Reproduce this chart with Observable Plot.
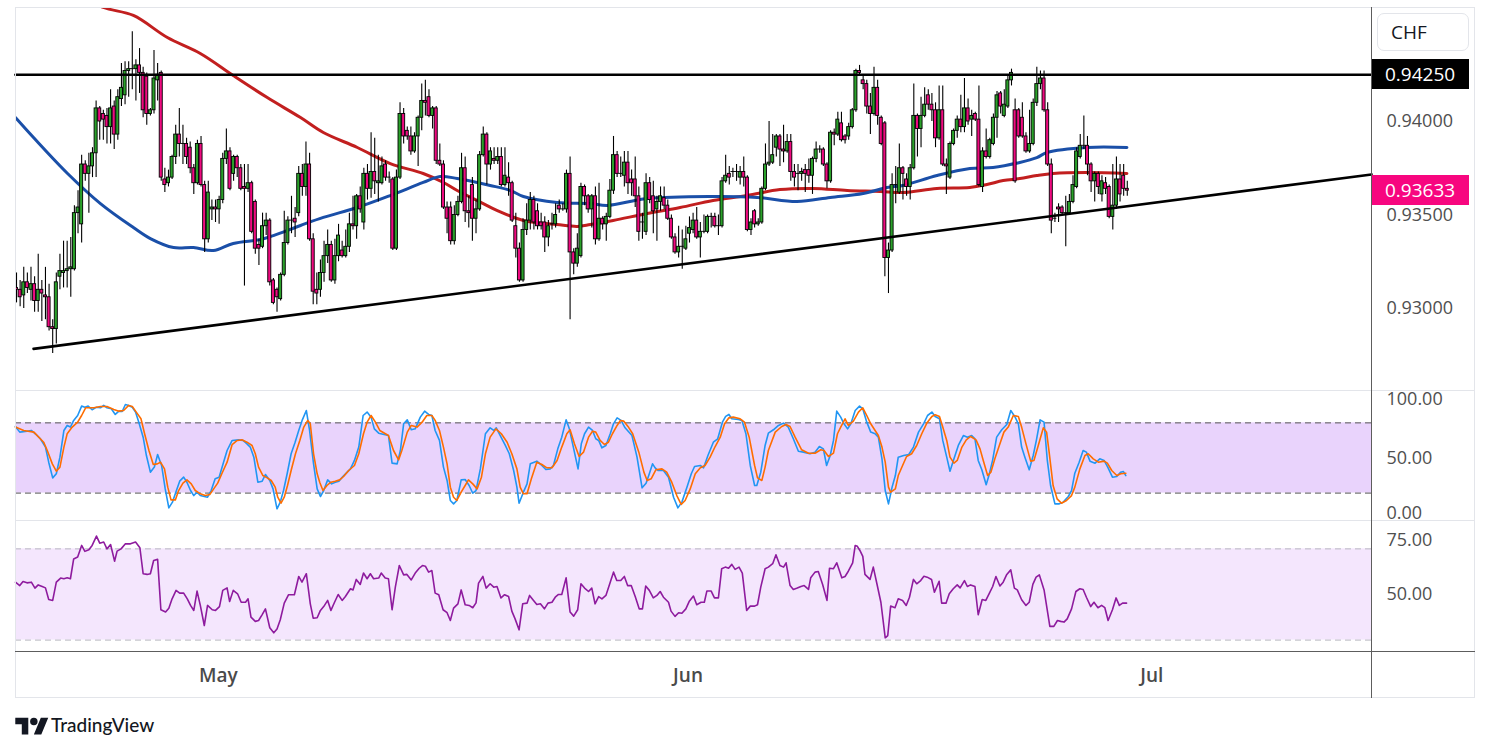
<!DOCTYPE html>
<html>
<head>
<meta charset="utf-8">
<script src="https://cdn.jsdelivr.net/npm/d3@7"></script>
<script src="https://cdn.jsdelivr.net/npm/@observablehq/plot@0.6"></script>
<style>
  html, body { margin: 0; padding: 0; background: #fff; }
  #wrap { position: relative; width: 1491px; height: 752px; overflow: hidden; font-family: "Open Sans", "Noto Sans", sans-serif; }
  .abs { position: absolute; }
  .hline { position: absolute; height: 1px; }
  .vline { position: absolute; width: 1px; }
  .pricebox { position: absolute; left: 1372px; width: 97px; height: 30px; line-height: 30px; color: #fff; font-size: 19px; padding-left: 13px; box-sizing: border-box; }
</style>
</head>
<body>
<div id="wrap"></div>
<script>
// ---------------- DATA ----------------
// 4h candles (index 0 = first visible candle). Prices in pips above PIP_BASE.
const PIP_BASE = 0.93;
const candleOpen = [
11,10,7,14,10,13,4,10,7,6, -10,-11,17,19,20,21,21,51,45,77, 72,76,83,107,104,103,97,108,93,112,
114,127,128,128,130,126,124,104,106,122, 126,69,67,70,81,93,88,88,86,75, 67,88,66,37,53,54,53,58,80,84,
72,81,75,65,64,67,57,34,33,44, 47,15,10,5,18,35,47,48,51, 72,65,77,37,10,10,19,28,34,15,
28,31,28,33,45,44,60,46,72,64, 73,67,67,77,70,69,32,70,104,95, 92,84,92,102,111,113,103,107,79,77,
54,54,36,50,57,75,52,66,48,53, 82,93,77,80,79,81,66,70,67,44, 32,15,42,47,58,52,46,46,38,45,
45,55,53,53,72,30,24,28,65,60, 53,60,37,48,45,49,63,82,72,71, 78,69,69,60,46,41,67,60,53,57,
59,55,48,38,30,33,32,40,42,47, 38,41,41,49,49,44,44,68,72,73, 73,70,73,70,42,52,45,46,64,77,
78,86,92,85,84,89,73,72,72,74, 74,71,80,85,85,77,68,94,93,99, 92,92,97,106,127,122,120,108,104,118,
102,99,27,31,66,62,75,69,65,75, 103,96,103,114,109,106,91,106,77,70, 88,95,101,97,107,101,104,101,65,84,
81,88,102,115,103,108,122,106,106,102, 92,84,88,110,120,123,106,77,48,54, 54,51,51,57,65,81,87,87,77,68,
72,61,67,65,49,55,69,71,64];
const candleHigh = [
19,15,22,19,22,17,29,15,22,13, -6,19,29,36,36,38,55,63,82,79, 83,86,111,108,106,107,117,111,117,131,
132,132,148,133,139,129,126,107,138,131, 127,75,74,82,98,107,98,91,89,77, 90,92,68,68,58,58,60,83,96,86,
82,82,77,77,77,68,58,37,51,51, 48,16,11,19,52,49,60,54,76, 77,89,83,40,19,26,36,42,36,37,
45,36,42,51,60,61,65,75,77,94, 91,82,81,79,73,70,74,110,107,97, 97,94,103,120,122,117,108,108,88,79,
57,57,55,60,83,81,60,70,58,84, 97,94,86,86,86,86,86,78,68,51, 35,48,56,62,60,56,51,49,47,51,
56,58,56,74,81,32,40,67,66,61, 61,65,67,49,51,69,92,84,81,84, 84,74,81,65,51,72,70,68,60,65,
65,58,50,40,44,42,44,49,51,54, 46,50,50,51,51,50,70,82,76,75, 77,76,81,71,48,53,48,65,88,100,
93,93,93,98,93,93,77,77,75,77, 80,81,89,87,86,78,95,96,105,105, 93,99,107,128,130,125,122,115,129,122,
103,100,35,72,76,88,76,72,77,120, 104,113,118,117,115,110,119,119,80,89, 96,103,114,123,112,106,105,119,86,96,
91,104,116,116,117,124,128,112,107,110, 94,106,112,129,127,127,110,80,51,56, 55,60,61,71,86,93,103,92,78,73,
73,71,70,66,77,81,77,77,68];
const candleLow = [
3,1,0,8,4,-2,-2,-7,-6,-12, -24,-19,10,11,11,6,20,40,35,68, 51,70,70,90,90,88,88,85,90,108,
109,113,117,111,115,102,98,103,104,111, 68,62,65,69,77,81,77,77,72,61, 66,65,30,35,47,46,45,56,77,63,
68,70,63,12,62,40,29,23,32,39, 12,2,-2,4,17,34,40,38,49, 60,60,36,2,2,6,14,24,14,13,
25,27,27,30,42,37,51,42,58,59, 61,57,66,68,67,31,31,69,88,90, 82,83,76,95,103,102,96,77,76,53,
40,34,34,49,56,46,43,36,40,52, 81,66,74,77,77,65,65,60,46,27, 14,14,39,42,42,42,42,30,33,42,
43,51,52,51,-6,18,22,27,55,51, 43,34,36,42,36,48,61,70,70,65, 61,60,54,36,37,39,56,40,36,52,
53,47,37,29,27,21,31,35,40,37, 27,40,40,43,43,39,43,67,66,70, 68,66,65,41,39,43,44,45,63,76,
77,81,76,78,83,68,65,63,68,62, 67,61,78,83,76,64,67,87,92,89, 88,90,96,105,125,117,104,93,103,98,
87,17,8,30,56,61,58,60,58,74, 81,86,102,106,100,86,90,76,61,69, 87,91,94,94,98,92,100,65,62,80,
80,87,91,104,102,107,119,67,91,91, 83,83,87,108,117,105,76,40,46,46, 50,33,50,56,64,80,85,71,62,57,
61,57,61,48,42,53,57,60,60];
const candleClose = [
10,6,14,11,13,4,10,8,6,-10, -11,14,20,20,21,22,51,54,77,72, 76,83,107,100,101,97,107,93,113,118,
127,128,128,130,126,106,104,106,123,125, 70,66,70,81,93,88,88,81,75,67, 88,66,37,62,54,53,58,80,84,64,
81,75,64,64,67,41,32,32,44,47, 14,3,6,18,35,47,47,46,72, 65,77,37,9,8,19,28,34,15,28,
39,28,33,45,44,60,53,72,64,73, 68,68,76,70,70,32,70,104,92,92, 84,92,102,111,110,103,107,79,77,54,
48,36,50,57,75,52,51,48,53,82, 93,77,84,79,81,66,71,67,47,32, 15,42,47,58,46,44,44,38,44,45,
50,53,53,72,30,24,32,65,60,53, 60,37,48,45,49,63,82,72,72,78, 67,67,60,41,46,67,58,52,57,60,
55,48,38,30,33,33,37,43,47,38, 41,41,49,49,44,44,68,71,70,73, 73,73,70,42,46,45,46,64,77,78,
82,92,85,84,89,73,70,72,73,72, 71,80,85,85,77,68,94,93,101,90, 90,97,106,127,126,120,108,104,118,103,
88,27,31,66,66,75,72,65,75,103, 96,103,109,109,106,91,106,77,76,88, 95,101,97,107,100,103,101,66,84,81,
90,102,114,108,109,122,126,68,92,92, 84,88,110,120,123,106,77,47,48,53, 51,51,57,66,84,87,87,77,68,72,
65,68,64,49,55,69,61,64,63];

// moving averages: [candle index, price]
const maRed = [[17.7,0.94674],[24.0,0.94610],[32.3,0.94567],[41.7,0.94449],[50.8,0.94364],[59.9,0.94246],[69.3,0.94128],[78.5,0.94021],[84.8,0.93941],[94.2,0.93861],[103.3,0.93775],[112.4,0.93722],[118.0,0.93674],[121.8,0.93631],[127.3,0.93578],[132.9,0.93524],[140.1,0.93471],[149.4,0.93449],[155.0,0.93439],[158.6,0.93449],[164.9,0.93471],[174.3,0.93508],[183.4,0.93540],[192.5,0.93578],[201.9,0.93604],[211.0,0.93636],[220.2,0.93642],[229.6,0.93631],[238.7,0.93626],[245.0,0.93620],[254.4,0.93642],[263.5,0.93647],[268.2,0.93663],[272.7,0.93684],[277.3,0.93695],[282.0,0.93711],[286.5,0.93722],[295.9,0.93727],[306.9,0.93722]];
const maBlue = [[-0.3,0.94021],[4.7,0.93914],[14.1,0.93722],[23.2,0.93561],[32.3,0.93433],[37.0,0.93374],[43.4,0.93326],[48.9,0.93326],[54.4,0.93310],[59.9,0.93348],[67.4,0.93369],[71.0,0.93390],[78.5,0.93444],[84.8,0.93487],[94.2,0.93540],[103.3,0.93604],[112.4,0.93674],[117.1,0.93706],[121.8,0.93695],[130.9,0.93658],[136.5,0.93631],[140.1,0.93599],[149.4,0.93567],[158.6,0.93561],[163.3,0.93551],[174.3,0.93588],[192.5,0.93599],[204.7,0.93594],[215.7,0.93572],[224.9,0.93594],[234.0,0.93615],[240.6,0.93647],[245.0,0.93658],[254.4,0.93711],[263.5,0.93749],[269.9,0.93754],[277.3,0.93781],[282.0,0.93807],[284.8,0.93834],[295.9,0.93861],[306.9,0.93861]];

// trend lines: [candle index, price]
const resistanceLine = [[-0.3,0.9425],[374.5,0.9425]];
const supportLine = [[4.7,0.92784],[374.5,0.93717]];

// price axis
const priceTicks = [0.93, 0.935, 0.94];
const resistanceLabel = 0.9425;
const lastPrice = 0.93633;

// stochastic %K / %D: [candle index, value]
const stochK = [[-0.3,76.9],[0.9,72.1],[2.9,72.9],[4.1,73.5],[5.2,70.7],[6.6,66.4],[8.0,59.3],[8.9,46.4],[10.0,33.0],[11.0,36.5],[12.0,50.7],[13.1,73.5],[14.0,77.8],[14.9,76.4],[15.8,82.1],[16.9,86.3],[18.0,94.3],[18.9,93.4],[19.8,94.3],[20.9,91.2],[22.1,93.4],[23.2,92.9],[24.1,94.9],[25.0,92.9],[26.2,92.0],[27.3,87.2],[28.3,90.0],[29.2,89.7],[30.1,95.7],[31.0,94.9],[32.0,93.4],[32.9,89.2],[33.8,80.6],[35.0,67.8],[35.9,52.1],[37.0,37.9],[38.1,42.2],[39.0,53.0],[40.1,43.6],[41.1,23.6],[42.1,7.4],[43.1,12.3],[44.2,22.2],[45.1,30.2],[46.2,33.6],[47.1,29.3],[48.1,22.2],[49.0,17.9],[49.9,20.8],[50.8,17.9],[51.9,17.1],[52.8,16.5],[53.8,22.2],[54.9,32.2],[56.0,33.6],[57.1,45.0],[58.2,56.4],[59.6,65.0],[61.4,65.5],[62.6,65.0],[63.7,62.1],[64.6,59.3],[65.6,50.7],[66.7,29.3],[67.9,30.2],[68.8,35.9],[70.0,30.8],[70.9,23.6],[72.0,6.6],[72.9,12.3],[73.8,22.2],[74.8,36.5],[75.9,53.6],[77.0,63.5],[78.0,73.5],[79.0,82.6],[80.1,90.6],[81.0,73.5],[82.1,45.0],[83.1,23.6],[84.0,17.1],[84.9,22.2],[86.0,31.3],[87.1,27.9],[88.1,29.3],[89.1,30.2],[90.2,34.2],[91.4,37.9],[92.3,40.7],[93.4,47.9],[94.6,59.3],[95.8,86.3],[96.9,89.2],[98.0,84.9],[98.9,74.9],[100.1,71.2],
[102.8,69.2],[103.8,45.6],[105.2,45.0],[106.1,56.4],[107.0,79.2],[108.0,82.6],[109.1,74.1],[110.2,74.9],[111.6,84.9],[112.8,90.0],[113.9,87.2],[114.8,86.3],[115.7,73.5],[116.9,65.0],[118.0,42.2],[119.0,30.8],[119.9,13.7],[120.8,10.8],[121.7,13.7],[122.9,31.3],[124.0,31.6],[125.1,26.5],[126.1,19.9],[127.0,22.2],[128.2,40.7],[129.6,70.7],[130.9,75.8],[131.9,73.5],[132.6,75.8],[133.7,69.2],[135.1,60.7],[136.2,53.6],[137.4,39.3],[138.3,25.1],[138.9,11.4],[140.1,20.8],[141.1,27.9],[142.0,45.0],[143.8,47.3],[145.2,43.6],[146.3,40.2],[147.5,40.7],[148.4,43.6],[149.6,57.8],[150.7,67.8],[151.9,82.6],[152.8,74.9],[153.9,59.3],[155.2,40.7],[156.1,62.1],[157.0,70.7],[158.1,76.4],[159.2,73.5],[160.1,66.4],[160.9,65.0],[161.8,58.7],[162.9,60.7],[164.1,70.7],[165.0,79.2],[166.0,84.3],[167.1,82.1],[168.2,75.8],[170.1,69.2],[171.5,50.7],[172.9,24.5],[174.0,28.5],[174.9,36.5],[175.8,45.0],[176.5,41.6],[177.3,39.3],[178.8,39.3],[180.2,33.6],[181.6,16.5],[182.8,7.4],[183.9,12.3],[185.3,25.1],[186.5,36.5],[187.4,42.7],[189.0,43.6],[189.9,41.6],[191.1,52.1],[192.6,63.5],[193.8,66.4],[195.1,80.6],[196.0,85.5],[196.9,87.2],[197.7,83.5],[199.5,82.9],[200.5,82.1],[201.6,70.7],[202.8,43.6],[204.0,26.5],
[204.6,26.5],[205.7,37.9],[206.9,60.7],[207.8,71.2],[209.2,74.1],[210.6,77.8],[212.0,79.8],[213.3,76.4],[214.7,66.4],[216.1,55.8],[217.5,55.0],[219.3,53.6],[220.7,55.0],[221.9,59.8],[223.0,57.8],[223.9,43.6],[224.9,52.1],[225.8,65.0],[226.7,90.0],[227.8,84.9],[228.7,79.2],[229.7,74.9],[230.6,79.2],[231.8,90.6],[233.0,94.3],[233.9,92.0],[235.0,80.6],[236.1,72.1],[237.3,70.7],[238.2,67.8],[239.2,49.3],[240.1,22.2],[241.0,10.8],[242.0,25.1],[242.9,35.0],[243.7,50.7],[245.2,52.1],[246.6,53.0],[247.9,59.3],[249.3,72.1],[250.7,79.2],[251.8,86.3],[253.0,89.2],[253.9,85.5],[255.1,83.5],[256.0,65.0],[257.1,50.7],[258.0,38.7],[259.1,49.3],[260.3,60.7],[261.7,69.2],[262.8,67.8],[264.0,69.2],[264.9,66.4],[265.8,47.9],[266.8,39.9],[268.0,27.1],[268.9,36.5],[269.8,48.4],[270.9,67.8],[272.3,74.1],[273.7,78.6],[274.8,90.6],[276.0,84.9],[276.9,79.2],[277.8,59.3],[278.7,50.7],[279.9,39.9],[281.0,52.1],[281.9,65.5],[282.9,82.6],[284.0,80.6],[284.9,47.9],[285.8,26.5],[287.0,10.8],[288.2,10.8],[289.3,12.3],[290.7,17.1],[291.6,22.2],[292.5,37.0],[293.7,46.4],[294.8,56.4],[295.7,55.0],[296.7,47.3],[298.1,45.6],[299.4,49.3],[300.6,47.9],[301.7,41.6],[302.9,33.6],[304.1,34.2],[305.2,37.9],[305.9,38.5],[306.6,35.0]];
const stochD = [[-0.3,76.4],[2.0,73.5],[4.8,72.1],[7.5,63.5],[8.5,56.4],[9.9,45.0],[11.0,38.7],[12.0,42.2],[13.1,59.3],[14.0,70.7],[15.4,76.4],[16.9,80.6],[18.0,86.3],[19.1,92.9],[21.4,92.9],[23.2,94.0],[25.0,94.0],[26.9,91.5],[28.3,90.0],[29.6,90.6],[31.0,94.9],[32.0,94.0],[33.1,89.2],[34.4,83.5],[35.4,70.7],[36.6,56.4],[37.8,44.4],[38.9,45.0],[39.8,46.4],[40.9,40.7],[41.8,25.1],[42.7,14.2],[43.9,14.2],[44.8,22.2],[46.0,28.5],[47.1,31.3],[48.3,27.9],[49.4,22.2],[50.8,19.4],[52.2,17.9],[53.4,18.8],[54.5,23.6],[55.6,28.5],[56.8,37.0],[58.2,46.4],[59.6,61.5],[61.0,65.0],[62.3,65.5],[63.7,63.5],[65.1,60.7],[66.0,53.6],[66.9,42.2],[68.1,35.0],[69.3,33.0],[70.4,30.8],[71.5,25.1],[72.2,16.5],[73.1,11.4],[74.0,16.5],[74.9,26.5],[75.9,39.3],[77.1,53.6],[78.3,65.0],[79.4,76.4],[80.5,82.1],[81.2,79.2],[82.1,53.6],[83.1,36.5],[83.8,29.3],[84.7,22.2],[85.8,26.5],[86.9,29.3],[88.1,30.2],[89.3,31.3],[90.4,34.2],[91.8,39.3],[93.4,43.6],[94.6,53.6],[95.9,70.7],[96.9,80.6],[98.0,86.3],[99.2,80.6],[100.4,73.5],
[102.8,69.2],[104.2,56.4],[105.6,48.4],[106.5,56.4],[108.0,72.1],[109.1,77.8],[110.7,76.4],[112.1,80.6],[113.4,86.3],[114.8,86.3],[115.7,82.1],[116.9,73.5],[118.0,59.3],[119.0,45.0],[119.9,25.1],[120.8,16.5],[121.7,13.7],[122.9,20.8],[124.0,26.5],[124.9,31.3],[126.1,27.9],[127.3,23.6],[128.5,33.6],[129.6,53.6],[130.9,67.8],[132.5,74.9],[134.0,70.7],[135.6,63.5],[136.9,53.6],[138.3,40.7],[139.2,25.1],[140.1,19.4],[141.1,19.4],[142.3,32.2],[143.8,46.4],[145.2,44.4],[146.6,41.6],[148.0,41.6],[149.4,47.9],[150.7,59.3],[152.1,70.7],[153.0,74.1],[154.2,62.1],[155.5,51.3],[156.7,55.0],[158.1,67.8],[159.2,72.9],[160.1,72.1],[161.3,65.0],[162.5,61.5],[163.6,63.5],[164.7,70.7],[166.0,77.8],[166.9,82.1],[167.8,81.5],[169.0,77.0],[170.3,70.7],[172.0,55.0],[173.4,37.9],[174.3,30.8],[175.4,32.2],[176.7,39.9],[178.4,40.7],[179.7,37.9],[181.1,29.3],[182.5,17.9],[183.7,10.3],[184.8,13.7],[186.2,23.6],[187.6,36.5],[189.0,41.6],[190.3,43.6],[191.7,50.7],[193.1,59.8],[194.5,67.8],[195.7,79.2],[196.9,84.3],[198.1,84.9],[200.0,83.5],[201.2,80.6],[202.5,67.8],[204.0,43.6],
[204.8,33.0],[206.0,30.8],[206.9,42.2],[207.8,56.4],[209.7,72.1],[211.5,76.9],[212.7,78.6],[213.8,76.9],[215.2,67.8],[217.0,57.0],[218.9,54.1],[220.7,54.1],[222.3,57.0],[223.2,56.4],[224.4,51.3],[225.8,54.1],[226.9,70.7],[227.8,76.4],[229.0,83.5],[229.9,77.8],[231.3,81.5],[232.7,89.2],[233.9,92.9],[235.0,86.3],[236.1,79.2],[237.3,73.5],[238.2,69.2],[239.2,59.3],[240.1,46.4],[241.0,25.1],[241.6,20.8],[242.9,23.6],[243.7,35.0],[244.9,43.6],[246.0,51.3],[247.4,53.6],[248.8,60.7],[250.2,70.7],[251.6,79.8],[253.0,85.5],[253.9,86.9],[255.1,85.5],[256.0,76.4],[257.1,65.0],[258.0,50.7],[259.1,45.6],[260.0,47.9],[261.3,59.3],[262.5,65.5],[263.7,68.4],[265.2,65.5],[266.3,57.8],[267.2,47.9],[268.4,35.0],[269.3,37.9],[270.4,49.3],[271.8,62.1],[272.9,72.1],[274.1,76.4],[275.5,86.3],[276.9,85.5],[277.8,76.4],[279.0,62.1],[280.3,47.3],[281.2,47.9],[282.4,60.7],[283.8,75.8],[284.7,72.1],[285.4,55.0],[286.5,26.5],[287.6,15.1],[288.8,11.4],[290.2,13.7],[291.6,17.9],[292.5,25.1],[293.9,40.7],[295.3,52.1],[296.2,53.6],[297.6,49.3],[299.0,46.4],[300.6,47.3],[301.5,45.6],[302.7,39.3],[304.1,35.0],[305.2,36.5],[306.6,37.0]];
const stochBand = [20, 80];
const stochTicks = [50, 100];
const stochZeroTick = [0];

// RSI: [candle index, value]
const rsi = [[-0.3,55.4],[0.9,53.9],[1.8,55.7],[2.9,55.1],[4.1,55.4],[5.1,52.8],[6.0,54.2],[7.1,53.5],[8.0,52.9],[8.9,47.8],[10.0,47.4],[11.0,55.4],[12.2,57.2],[13.1,56.9],[14.0,57.3],[14.9,56.9],[15.8,65.6],[16.9,66.4],[18.0,71.5],[18.9,68.9],[20.0,69.6],[20.9,71.5],[22.1,75.6],[23.0,72.5],[24.1,73.0],[25.0,70.0],[26.0,71.9],[27.1,64.6],[27.8,69.0],[28.9,70.0],[30.1,72.2],[31.5,72.2],[32.9,73.0],[34.1,70.5],[35.0,59.1],[36.1,58.8],[37.0,59.1],[37.9,64.9],[39.0,65.4],[39.9,43.3],[41.2,42.3],[42.1,44.0],[43.0,48.1],[44.1,51.8],[45.1,50.6],[46.2,50.6],[47.2,48.1],[48.1,45.2],[49.0,43.0],[49.9,51.5],[50.8,45.2],[51.9,36.4],[52.8,45.2],[54.1,43.3],[55.0,43.0],[56.1,44.7],[57.0,51.8],[58.2,52.9],[58.9,46.9],[59.9,51.8],[61.1,50.3],[62.1,46.6],[63.3,46.6],[64.0,48.1],[64.8,40.1],[66.0,38.2],[66.9,38.6],[67.9,41.2],[68.8,43.7],[70.0,35.4],[71.1,33.2],[72.0,34.9],[72.9,38.9],[74.0,46.2],[75.2,49.9],[76.8,49.9],[78.0,57.9],[78.9,55.4],[80.1,59.1],[81.2,45.9],[82.0,39.6],[83.1,39.8],[84.0,43.0],[84.9,44.7],[86.0,47.4],[86.9,43.0],[87.9,46.6],[88.9,50.0],[90.0,47.4],[90.9,49.1],[92.3,52.5],[93.0,52.0],[93.9,56.6],[95.0,54.4],[95.9,59.4],[96.9,56.9],[97.8,59.1],[98.7,56.9],[100.1,57.2],
[100.8,59.4],[101.9,57.2],[102.8,56.9],[103.8,43.3],[104.7,53.2],[105.8,62.7],[107.0,58.6],[107.9,58.8],[109.1,56.4],[110.2,59.4],[111.3,61.5],[112.2,62.7],[113.0,62.4],[113.9,59.8],[114.8,60.5],[115.7,50.6],[116.7,49.9],[117.9,43.3],[119.0,42.0],[119.9,38.6],[120.8,44.0],[122.0,45.9],[122.9,52.0],[124.0,45.5],[125.1,45.2],[126.1,44.2],[127.0,46.3],[127.7,55.0],[128.9,57.9],[129.8,52.8],[130.9,54.7],[131.9,53.2],[132.8,53.5],[133.9,48.5],[134.9,49.9],[136.0,49.1],[136.9,42.7],[137.8,39.3],[138.9,34.5],[139.9,45.9],[141.1,46.2],[141.8,49.6],[142.9,47.4],[143.8,45.6],[144.8,45.9],[145.9,43.7],[146.9,46.2],[148.0,46.6],[148.9,48.8],[149.8,50.0],[150.7,50.0],[151.9,57.3],[153.0,42.3],[154.0,40.5],[155.1,43.3],[156.0,54.7],[157.0,52.8],[158.1,51.3],[159.0,52.8],[159.9,45.9],[160.9,49.1],[161.8,48.1],[162.9,49.6],[164.1,55.4],[165.0,59.8],[165.9,56.1],[167.0,56.1],[168.0,57.9],[168.9,53.9],[169.9,53.9],[171.0,49.1],[172.1,43.7],[173.0,43.7],[173.9,53.7],[174.9,51.8],[176.0,48.5],[177.0,49.6],[177.9,51.3],[178.8,48.8],[180.2,46.6],[180.9,42.7],[182.0,40.4],[183.0,42.0],[183.9,41.8],[185.0,43.7],[185.9,46.9],[187.1,49.3],[188.0,45.5],[189.2,46.6],[190.1,46.6],[190.8,51.5],[192.0,51.5],[192.9,48.5],[194.0,48.5],[194.9,61.3],[195.9,62.0],[196.8,61.5],[197.7,63.2],[198.6,61.0],[199.7,62.0],[200.6,59.4],[201.8,43.0],[202.8,44.9],[204.0,44.9],
[204.8,45.5],[205.7,53.2],[206.9,61.3],[207.8,62.0],[209.0,63.5],[209.9,67.4],[211.0,62.7],[212.0,62.0],[212.7,63.9],[213.8,53.9],[214.7,52.2],[215.8,52.8],[216.8,53.5],[217.7,53.9],[218.9,52.2],[219.5,57.3],[220.7,59.8],[221.6,60.1],[222.8,54.4],[224.0,47.4],[224.7,61.5],[225.8,61.3],[226.7,63.9],[228.1,57.3],[229.0,57.9],[229.9,60.2],[231.1,63.9],[231.8,71.5],[232.4,71.1],[233.1,69.3],[233.9,66.7],[234.5,58.8],[235.9,56.6],[236.8,62.0],[237.8,54.7],[238.9,46.6],[240.1,31.0],[240.8,32.0],[241.6,44.9],[242.8,44.2],[243.7,48.1],[244.9,47.4],[245.9,45.2],[246.8,48.8],[247.9,56.6],[248.8,54.7],[249.9,56.1],[250.8,58.0],[251.7,57.6],[252.9,56.6],[253.7,51.0],[255.0,55.8],[255.7,46.2],[256.9,46.2],[257.8,50.3],[258.9,52.5],[260.0,54.2],[260.8,52.9],[262.0,56.1],[262.8,53.5],[263.7,54.2],[264.9,53.5],[265.8,41.1],[266.9,47.8],[267.9,47.4],[268.9,50.6],[269.8,53.5],[270.7,57.9],[271.8,53.7],[272.7,55.4],[273.7,58.8],[274.8,60.8],[275.8,52.8],[276.6,52.0],[277.8,47.7],[279.0,45.2],[279.9,46.6],[280.9,54.4],[281.8,57.6],[282.7,58.6],[284.0,52.0],[285.6,36.0],[286.7,36.0],[287.7,38.6],[288.6,38.2],[289.5,37.9],[290.4,39.3],[291.6,43.7],[292.8,51.3],[293.9,52.5],[294.8,52.2],[295.7,48.8],[296.9,44.7],[297.8,46.6],[298.9,44.2],[299.9,45.2],[300.8,44.2],[301.7,38.6],[302.9,43.3],[303.9,48.5],[304.8,45.2],[305.7,46.2],[306.8,46.2]];
const rsiBand = [30, 70];
const rsiTicks = [50];
const rsiTopTick = [75];

// time axis
const monthTickIdx = [55.8, 185.6, 313.8];
const monthLabels = ["May", "Jun", "Jul"];

// ---------------- LAYOUT ----------------
const W = 1491, ML = 15, MR = 120;
const X_DOMAIN = [-0.28, 374.5];
const FONT = "'Open Sans', 'Noto Sans', sans-serif";
const AXIS_FILL = "#4f4f4f";
const AXIS_SIZE = 18;
const wrap = document.getElementById("wrap");

const candles = candleOpen.map((o, i) => ({
  i,
  open: PIP_BASE + o / 10000,
  high: PIP_BASE + candleHigh[i] / 10000,
  low: PIP_BASE + candleLow[i] / 10000,
  close: PIP_BASE + candleClose[i] / 10000
}));

function place(el, top) {
  el.style.position = "absolute";
  el.style.left = "0px";
  el.style.top = top + "px";
  el.style.background = "transparent";
  el.style.maxWidth = "none";
  wrap.appendChild(el);
  return el;
}

const baseStyle = {fontFamily: FONT, fontSize: "18px", background: "transparent", overflow: "visible"};
const axisOpts = {anchor: "right", tickSize: 0, tickPadding: 15, textAnchor: "start", fill: AXIS_FILL, fontSize: AXIS_SIZE, label: null};

// main price pane
const mainPlot = Plot.plot({
  width: W, height: 391, marginLeft: ML, marginRight: MR, marginTop: 8, marginBottom: 1,
  style: baseStyle,
  x: {domain: X_DOMAIN, axis: null},
  y: {domain: [0.925615, 0.946043], axis: null},
  marks: [
    Plot.axisY(priceTicks, {...axisOpts, tickFormat: d3.format(".5f")}),
    Plot.line(maRed, {x: d => d[0], y: d => d[1], stroke: "#c21f1f", strokeWidth: 3, curve: "catmull-rom", clip: true}),
    Plot.line(maBlue, {x: d => d[0], y: d => d[1], stroke: "#1a4fa8", strokeWidth: 3, curve: "catmull-rom", clip: true}),
    Plot.ruleX(candles, {x: "i", y1: "low", y2: "high", stroke: "#000", strokeWidth: 1.1, clip: true}),
    Plot.rect(candles, {
      x1: d => d.i - 0.42, x2: d => d.i + 0.42,
      y1: "open", y2: d => (Math.abs(d.close - d.open) < 1e-9 ? d.open + 0.000001 : d.close),
      fill: d => (d.close >= d.open ? "#2aa12a" : "#ef0a80"),
      stroke: "#000", strokeWidth: 0.9, clip: true
    }),
    Plot.line(resistanceLine, {x: d => d[0], y: d => d[1], stroke: "#000", strokeWidth: 2.6}),
    Plot.line(supportLine, {x: d => d[0], y: d => d[1], stroke: "#000", strokeWidth: 2.6})
  ]
});
place(mainPlot, 0);

// stochastic pane
const stochPlot = Plot.plot({
  width: W, height: 129, marginLeft: ML, marginRight: MR, marginTop: 0, marginBottom: 0,
  style: baseStyle,
  x: {domain: X_DOMAIN, axis: null},
  y: {domain: [-3.4, 106.8], axis: null},
  marks: [
    Plot.rect([stochBand], {x1: () => X_DOMAIN[0], x2: () => X_DOMAIN[1], y1: d => d[0], y2: d => d[1], fill: "#e9d3fc"}),
    Plot.ruleY(stochBand, {stroke: "#555", strokeDasharray: "6,4", strokeWidth: 1}),
    Plot.axisY(stochTicks, {...axisOpts, tickFormat: d3.format(".2f")}),
    Plot.axisY(stochZeroTick, {...axisOpts, tickFormat: d3.format(".2f"), dy: -3}),
    Plot.line(stochK, {x: d => d[0], y: d => d[1], stroke: "#2196f3", strokeWidth: 1.6}),
    Plot.line(stochD, {x: d => d[0], y: d => d[1], stroke: "#ff6d00", strokeWidth: 1.6})
  ]
});
place(stochPlot, 391);

// RSI pane
const rsiPlot = Plot.plot({
  width: W, height: 130, marginLeft: ML, marginRight: MR, marginTop: 0, marginBottom: 0,
  style: baseStyle,
  x: {domain: X_DOMAIN, axis: null},
  y: {domain: [25, 82], axis: null},
  marks: [
    Plot.rect([rsiBand], {x1: () => X_DOMAIN[0], x2: () => X_DOMAIN[1], y1: d => d[0], y2: d => d[1], fill: "#f4e6fd"}),
    Plot.ruleY(rsiBand, {stroke: "#b8b8c0", strokeDasharray: "6,4", strokeWidth: 1}),
    Plot.axisY(rsiTicks, {...axisOpts, tickFormat: d3.format(".2f")}),
    Plot.axisY(rsiTopTick, {...axisOpts, tickFormat: d3.format(".2f"), dy: 3}),
    Plot.line(rsi, {x: d => d[0], y: d => d[1], stroke: "#8e1b9e", strokeWidth: 1.6})
  ]
});
place(rsiPlot, 521);

// time axis
const monthTicks = monthTickIdx.map((idx, k) => ({idx, label: monthLabels[k]}));
const timePlot = Plot.plot({
  width: W, height: 46, marginLeft: ML, marginRight: MR, marginTop: 0, marginBottom: 0,
  style: baseStyle,
  x: {domain: X_DOMAIN, axis: null},
  marks: [
    Plot.text(monthTicks, {x: "idx", text: "label", frameAnchor: "middle", fontSize: 19, fontWeight: 600, fill: "#4a4a4a"})
  ]
});
place(timePlot, 652);

// ---------------- FRAME / DECORATIONS ----------------
function div(cls, css, html) {
  const d = document.createElement("div");
  d.className = cls;
  Object.assign(d.style, css);
  if (html != null) d.innerHTML = html;
  wrap.appendChild(d);
  return d;
}
// outer frame
div("abs", {left: "15px", top: "7px", width: "1460px", height: "691px", border: "1px solid #e3e5ea", boxSizing: "border-box"});
// pane separators
div("hline", {left: "15px", top: "390px", width: "1460px", background: "#e3e5ea"});
div("hline", {left: "15px", top: "520px", width: "1460px", background: "#e3e5ea"});
// time axis line
div("hline", {left: "15px", top: "651px", width: "1460px", background: "#5d5d5d"});
// price axis separator
div("vline", {left: "1371px", top: "7px", height: "691px", background: "#5d5d5d"});

// currency button
div("abs", {left: "1377px", top: "13px", width: "92px", height: "38px", border: "1px solid #e3e5ea", borderRadius: "7px",
  boxSizing: "border-box", fontSize: "19px", lineHeight: "36px", paddingLeft: "13px", color: "#131722", fontFamily: FONT}, "CHF");

// price labels placed with the main plot's y scale
const yMain = mainPlot.scale("y");
div("pricebox", {top: (yMain.apply(resistanceLabel) - 15) + "px", background: "#000", fontFamily: FONT}, d3.format(".5f")(resistanceLabel));
div("pricebox", {top: (yMain.apply(lastPrice) - 15) + "px", background: "#f7067f", fontFamily: FONT}, d3.format(".5f")(lastPrice));

// TradingView logo
div("abs", {left: "15px", top: "714px", width: "34px", height: "26px"},
  '<svg width="34" height="26" viewBox="0 0 36 28"><path d="M14 22H7V11H0V4h14v18zM28 22h-8l7.5-18h8L28 22z" fill="#131722"/><circle cx="20" cy="8" r="4" fill="#131722"/></svg>');
div("abs", {left: "51px", top: "712px", fontSize: "19px", lineHeight: "26px", color: "#131722", fontFamily: "Lato, 'Open Sans', sans-serif", fontWeight: 500}, "TradingView");
</script>
</body>
</html>
